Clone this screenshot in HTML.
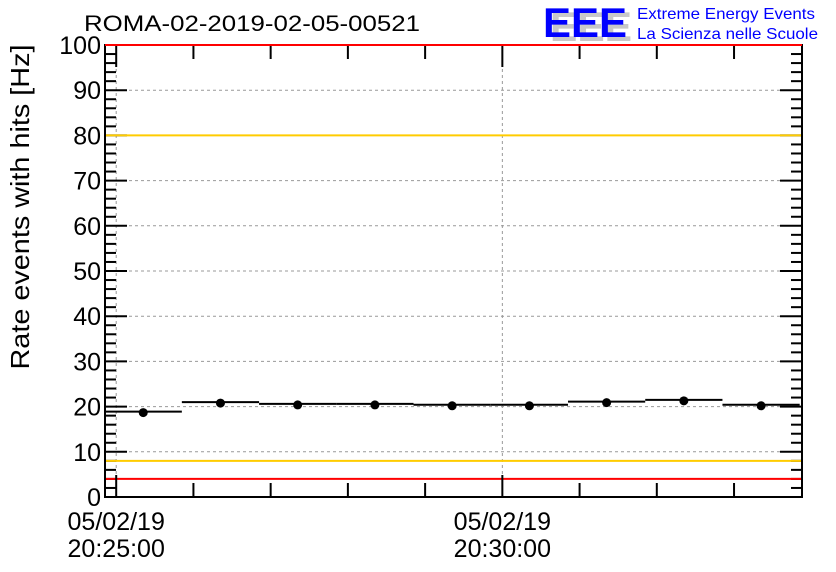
<!DOCTYPE html>
<html><head><meta charset="utf-8"><style>
body{margin:0;background:#fff;width:836px;height:572px;overflow:hidden;font-family:"Liberation Sans",sans-serif}
</style></head><body>
<svg id="c" width="836" height="572" style="position:absolute;left:0;top:0">
<text x="84" y="31" font-size="22" fill="#000" textLength="336" lengthAdjust="spacingAndGlyphs">ROMA-02-2019-02-05-00521</text>
<g>
<text x="550" y="41" font-size="42" font-weight="bold" fill="#c8c8c8" textLength="82" lengthAdjust="spacingAndGlyphs">EEE</text>
<text x="543" y="37" font-size="42" font-weight="bold" fill="#0000ff" textLength="84" lengthAdjust="spacingAndGlyphs">EEE</text>
<text x="637" y="19" font-size="16" fill="#0000ff" textLength="178" lengthAdjust="spacingAndGlyphs">Extreme Energy Events</text>
<text x="637" y="39" font-size="16" fill="#0000ff" textLength="181" lengthAdjust="spacingAndGlyphs">La Scienza nelle Scuole</text>
</g>
<text transform="translate(29,207) rotate(-90)" text-anchor="middle" font-size="26" fill="#000" textLength="325" lengthAdjust="spacingAndGlyphs">Rate events with hits [Hz]</text>
<g id="g"></g>
</svg>
<script>
const binCenters=[0.35,1.35,2.35,3.35,4.35,5.35,6.35,7.35,8.35];
const rates=[18.9,21.0,20.6,20.6,20.4,20.4,21.1,21.5,20.4];
const binWidth=1.0;
const yTicks=[0,10,20,30,40,50,60,70,80,90,100];
const xTickLabels=[["05/02/19","20:25:00"],["05/02/19","20:30:00"]];
const xTickMinutes=[0,5];
const yellowLines=[80,8];
const redLines=[100,4];
const X0=105,X1=802,Y0=45,Y1=497;
const xMin=-0.145,xMax=8.88;
const sx=m=>X0+(m-xMin)/(xMax-xMin)*(X1-X0);
const sy=v=>Y1-v/100*(Y1-Y0);
const g=document.getElementById('g');
const NS='http://www.w3.org/2000/svg';
function mk(t,a){const e=document.createElementNS(NS,t);for(const k in a)e.setAttribute(k,a[k]);g.appendChild(e);return e;}
yTicks.slice(1,-1).forEach(v=>{const e=mk('line',{x1:X0,x2:X1,y1:sy(v),y2:sy(v),stroke:'#999','stroke-dasharray':'3,3','stroke-width':1});

});
xTickMinutes.forEach(m=>{const e=mk('line',{x1:sx(m),x2:sx(m),y1:Y0,y2:Y1,stroke:'#999','stroke-dasharray':'3,3','stroke-width':1});

});
for(let v=0;v<=100;v+=2){const maj=v%10===0;const L=maj?22:11;
mk('line',{x1:X0,x2:X0+L,y1:sy(v),y2:sy(v),stroke:'#000','stroke-width':2});
mk('line',{x1:X1,x2:X1-L,y1:sy(v),y2:sy(v),stroke:'#000','stroke-width':2});}
yellowLines.forEach(v=>{const e=mk('line',{x1:X0,x2:X1,y1:sy(v),y2:sy(v),stroke:'#ffcc00','stroke-width':2});

});
redLines.forEach(v=>{const e=mk('line',{x1:X0,x2:X1,y1:sy(v),y2:sy(v),stroke:'#ff0000','stroke-width':2});

});
yTicks.forEach(v=>{const t=mk('text',{x:X0-4,y:sy(v)+9,'text-anchor':'end','font-size':25,fill:'#000'});t.textContent=v;

});
for(let m=0;m<=8;m++){const x=sx(m);const L=m%5===0?22:14;
mk('line',{x1:x,x2:x,y1:Y1,y2:Y1-L,stroke:'#000','stroke-width':2});
mk('line',{x1:x,x2:x,y1:Y0,y2:Y0+L,stroke:'#000','stroke-width':2});}
xTickMinutes.forEach((m,i)=>{[0,1].forEach(j=>{const t=mk('text',{x:sx(m),y:530+j*27,'text-anchor':'middle','font-size':25,fill:'#000'});t.textContent=xTickLabels[i][j];

});});
const fr=mk('rect',{x:X0,y:Y0,width:X1-X0,height:Y1-Y0,fill:'none',stroke:'#000','stroke-width':2});


mk('line',{x1:X0,x2:X1,y1:Y0,y2:Y0,stroke:'#ff0000','stroke-width':2});
binCenters.forEach((c,i)=>{const y=sy(rates[i]);
const l=mk('line',{x1:Math.max(X0,sx(c-binWidth/2)),x2:Math.min(X1,sx(c+binWidth/2)),y1:y,y2:y,stroke:'#000','stroke-width':2});


const p=mk('circle',{cx:sx(c),cy:y+1,r:4.5,fill:'#000'});

});
</script>
</body></html>
